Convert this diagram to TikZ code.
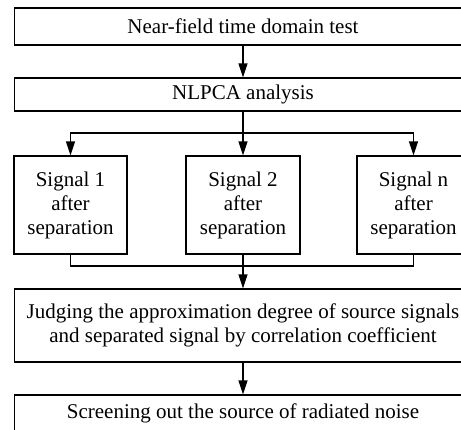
\documentclass[tikz,border=0pt]{standalone}
\usepackage{fontspec}
\setmainfont{Liberation Serif}
\usetikzlibrary{arrows.meta}
\begin{document}
\begin{tikzpicture}[x=1pt,y=-1pt,
  box/.style={draw, line width=1.3pt, inner sep=0pt, align=center,
    font=\fontsize{21}{24}\selectfont},
  widebox/.style={box, minimum width=457pt},
  sigbox/.style={box, minimum width=113pt, minimum height=98pt},
  flow/.style={line width=1.3pt, -{Triangle[length=14pt,width=9pt]}},
  link/.style={line width=1.3pt}]
\useasboundingbox (0,0) rectangle (461,429);

% main column of steps
\node[widebox, minimum height=37pt] (test)   at (243,26.5)  {Near-field time domain test};
\node[widebox, minimum height=33pt] (nlpca)  at (243,94.5)  {NLPCA analysis};
\node[sigbox] (s1) at (70.5,205)  {Signal 1\\after\\separation};
\node[sigbox, minimum width=114pt] (s2) at (243,205) {Signal 2\\after\\separation};
\node[sigbox] (sn) at (413.5,205) {Signal n\\after\\separation};
\node[widebox, minimum height=73pt] (judge)  at (243,325.5) {Judging the approximation degree of source signals\\and separated signal by correlation coefficient};
\node[widebox, minimum height=37pt] (screen) at (243,413.5) {Screening out the source of radiated noise};

% fork and join points
\coordinate (fork) at (243,133);
\coordinate (join) at (243,266);

\draw[flow] (test) -- (nlpca);
\draw[link] (nlpca.south) -- (fork);
\draw[flow] (fork) -| (s1.north);
\draw[flow] (fork) -- (s2.north);
\draw[flow] (fork) -| (sn.north);
\draw[link] (s1.south) |- (join);
\draw[link] (sn.south) |- (join);
\draw[flow] (s2.south) -- (judge.north);
\draw[flow] (judge) -- (screen);
\end{tikzpicture}
\end{document}
